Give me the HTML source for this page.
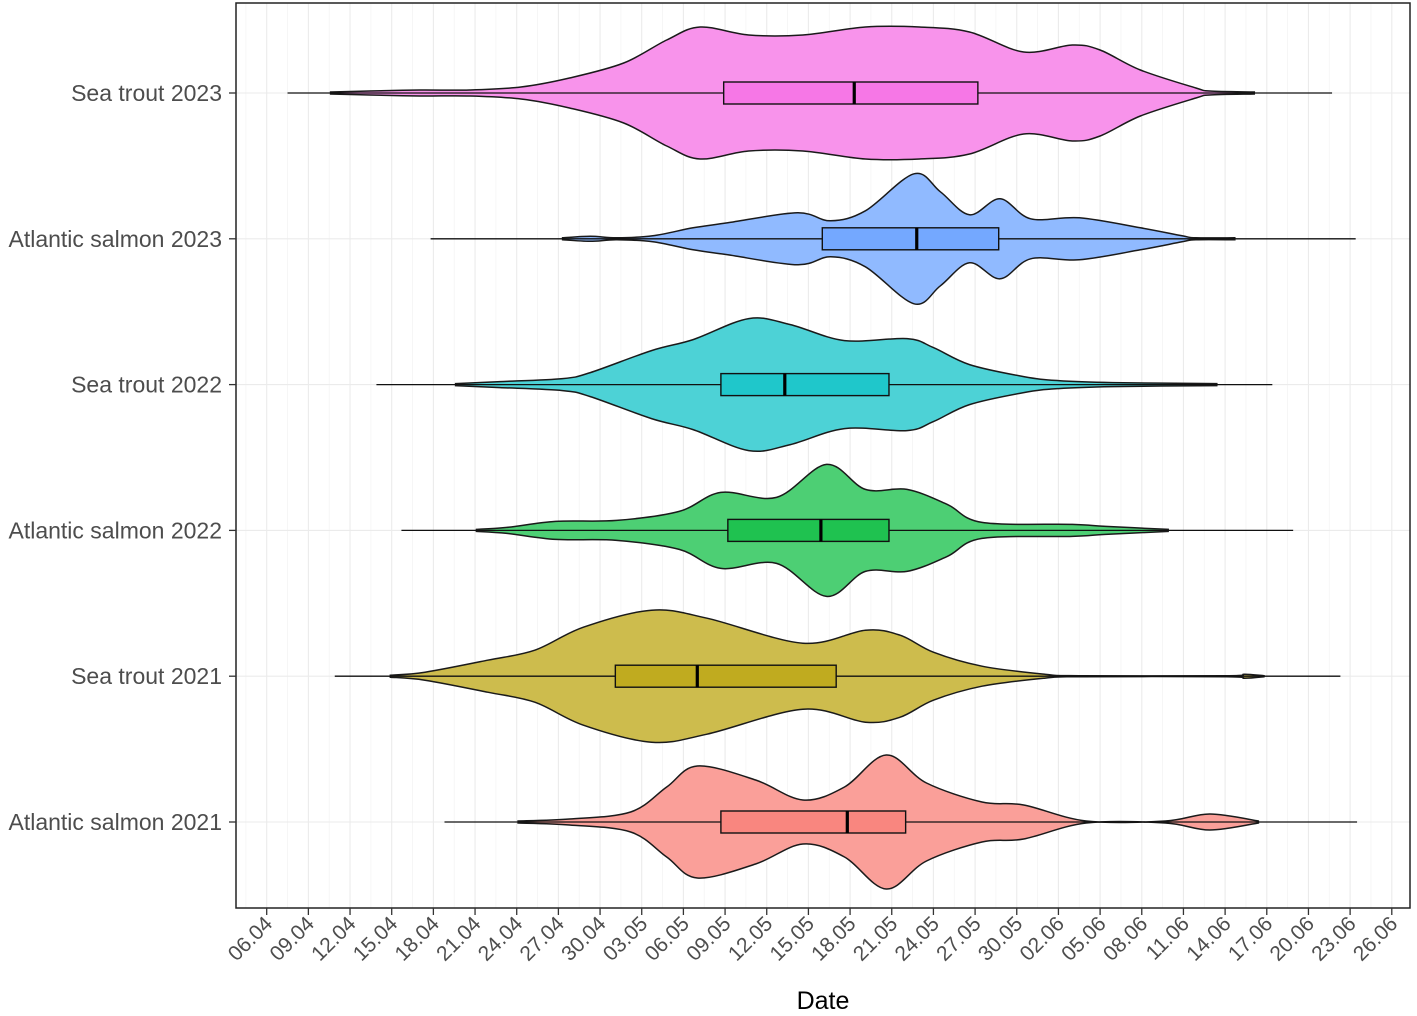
<!DOCTYPE html>
<html><head><meta charset="utf-8"><style>
html,body{margin:0;padding:0;background:#fff;}
svg{display:block;font-family:"Liberation Sans",Arial,sans-serif;}
</style></head><body>
<svg id="chart" width="1417" height="1016" viewBox="0 0 1417 1016" xmlns="http://www.w3.org/2000/svg"></svg>
<script>
// ---- data (days since 06.04) ----
const categories = ["Sea trout 2023","Atlantic salmon 2023","Sea trout 2022","Atlantic salmon 2022","Sea trout 2021","Atlantic salmon 2021"];
const baseColors = ["#F564E3","#619CFF","#00BFC4","#00BA38","#B79F00","#F8766D"];
const tickLabels = ["06.04","09.04","12.04","15.04","18.04","21.04","24.04","27.04","30.04","03.05","06.05","09.05","12.05","15.05","18.05","21.05","24.05","27.05","30.05","02.06","05.06","08.06","11.06","14.06","17.06","20.06","23.06","26.06"];
const tickDays = [0,3,6,9,12,15,18,21,24,27,30,33,36,39,42,45,48,51,54,57,60,63,66,69,72,75,78,81];
const densDays0 = [4.6,7.4,11.0,14.6,18.3,21.8,25.7,28.8,31.2,34.7,38.6,43.1,47.0,50.6,54.5,58.0,60.0,62.9,66.9,67.9,71.1];
const densVals0 = [1,2,3,3,6,15,30,53,66,58,58,66,66,61,41,48,43,23,5,2,1];
const densDays1 = [21.3,23.3,25.2,27.8,30.7,33.2,38.2,40.6,43.1,46.6,48.5,50.6,52.8,55.0,58.5,62.9,65.9,66.9,69.7];
const densVals1 = [1,2.5,1,3,11,16,26,18,28,65,47,24,40,20,21,11,3,1,1];
const densDays2 = [13.6,16.8,21.3,23.3,27.7,30.7,34.7,37.7,41.6,46.1,48.0,50.6,54.5,57.0,60.9,68.4];
const densVals2 = [1,3,6,12,34,45,66,60,44,46,37,20,8,4,2,1];
const densDays3 = [15.1,17.3,20.8,25.2,29.7,32.7,36.7,40.3,43.1,46.1,49.0,51.5,58.0,60.4,64.9];
const densVals3 = [1,3,9,10,19,38,33,66,41,41,26,8,6,4,1];
const densDays4 = [8.9,11.4,15.9,19.3,22.8,27.7,31.7,38.6,43.1,45.6,48.0,51.5,56.0,58.5,69.1,70.4,71.8];
const densVals4 = [1,4,16,26,49,66,58,33,46,41,24,10,2,0.5,0.5,2,0.5];
const densDays5 = [18.1,21.8,26.2,28.8,31.0,35.2,38.6,41.6,44.6,47.5,51.5,54.5,59.0,64.7,67.9,71.4];
const densVals5 = [1,3,10,35,56,42,22,35,67,39,20,17,1,1,8,1];
const q1 = [32.9,40.0,32.7,33.2,25.1,32.7];
const med = [42.3,46.8,37.3,39.9,31.0,41.8];
const q3 = [51.2,52.7,44.8,44.8,41.0,46.0];
const wLo = [1.5,11.8,7.9,9.7,4.9,12.8];
const wHi = [76.7,78.4,72.4,73.9,77.3,78.5];

const densDays=[densDays0,densDays1,densDays2,densDays3,densDays4,densDays5];
const densVals=[densVals0,densVals1,densVals2,densVals3,densVals4,densVals5];

const NS="http://www.w3.org/2000/svg";
const svg=document.getElementById('chart');
const P={l:236,r:1410,t:3,b:908};
const xS=d=>266.7+d*13.89;
const yS=i=>93+i*145.8;
const hS=v=>v;
function el(tag,attrs,parent){const e=document.createElementNS(NS,tag);for(const k in attrs)e.setAttribute(k,attrs[k]);(parent||svg).appendChild(e);return e;}
function mix(hex,a){const n=parseInt(hex.slice(1),16);const c=[n>>16,(n>>8)&255,n&255].map(v=>Math.round(v*a+255*(1-a)));return `rgb(${c.join(',')})`;}

const grid=el('g',{});


for(let i=0;i<tickDays.length;i++){
  const x=xS(tickDays[i]);
  el('line',{x1:x,x2:x,y1:P.t,y2:P.b,stroke:'#ebebeb','stroke-width':1.1},grid);
  const xm=xS(tickDays[i]+1.5);
  if(xm<P.r) el('line',{x1:xm,x2:xm,y1:P.t,y2:P.b,stroke:'#f4f4f4','stroke-width':0.8},grid);
}
const xm0=xS(-1.5); el('line',{x1:xm0,x2:xm0,y1:P.t,y2:P.b,stroke:'#f4f4f4','stroke-width':0.8},grid);
for(let i=0;i<categories.length;i++){
  const y=yS(i);
  el('line',{x1:P.l,x2:P.r,y1:y,y2:y,stroke:'#ebebeb','stroke-width':1.1},grid);
}

function smoothPath(pts){
  let d=`M${pts[0][0]},${pts[0][1]}`;
  for(let i=0;i<pts.length-1;i++){
    const p0=pts[Math.max(0,i-1)],p1=pts[i],p2=pts[i+1],p3=pts[Math.min(pts.length-1,i+2)];
    const c1=[p1[0]+(p2[0]-p0[0])/6,p1[1]+(p2[1]-p0[1])/6];
    const c2=[p2[0]-(p3[0]-p1[0])/6,p2[1]-(p3[1]-p1[1])/6];
    d+=` C${c1[0].toFixed(1)},${c1[1].toFixed(1)} ${c2[0].toFixed(1)},${c2[1].toFixed(1)} ${p2[0].toFixed(1)},${p2[1].toFixed(1)}`;
  }
  return d;
}

for(let i=0;i<categories.length;i++){
  const g=el('g',{});
  
  
  const cy=yS(i);
  const days=densDays[i], vals=densVals[i];
  const top=days.map((d,k)=>[xS(d),cy-hS(vals[k])]);
  const bot=days.map((d,k)=>[xS(d),cy+hS(vals[k])]).reverse();
  const path=smoothPath(top)+' L'+bot[0][0]+','+bot[0][1]+smoothPath(bot).replace(/^M[^C]*/,' ')+' Z';
  const v=el('path',{d:path,fill:mix(baseColors[i],0.7),stroke:'#1a1a1a','stroke-width':1.5},g);
  
  
  const w=el('line',{x1:xS(wLo[i]),x2:xS(wHi[i]),y1:cy,y2:cy,stroke:'#111','stroke-width':1.3},g);
  
  
  const b=el('rect',{x:xS(q1[i]),y:cy-11,width:xS(q3[i])-xS(q1[i]),height:22,fill:mix(baseColors[i],0.88),stroke:'#111','stroke-width':1.4},g);
  
  
  const m=el('line',{x1:xS(med[i]),x2:xS(med[i]),y1:cy-11,y2:cy+11,stroke:'#000','stroke-width':3.2},g);
  
  
}

const border=el('rect',{x:P.l,y:P.t,width:P.r-P.l,height:P.b-P.t,fill:'none',stroke:'#222','stroke-width':1.5});



for(let i=0;i<categories.length;i++){
  const y=yS(i);
  el('line',{x1:229,x2:P.l,y1:y,y2:y,stroke:'#333','stroke-width':1.3});
  const t=el('text',{x:222,y:y+8,'text-anchor':'end','font-size':23,fill:'#4d4d4d'});
  t.textContent=categories[i];
  
  
}
for(let i=0;i<tickDays.length;i++){
  const x=xS(tickDays[i]);
  el('line',{x1:x,x2:x,y1:P.b,y2:P.b+7,stroke:'#333','stroke-width':1.3});
  const t=el('text',{x:x+7,y:P.b+17,'text-anchor':'end','font-size':21,fill:'#4d4d4d',transform:`rotate(-45 ${x+7} ${P.b+17})`});
  t.textContent=tickLabels[i];
  
  
}
const xt=el('text',{x:823,y:1009,'text-anchor':'middle','font-size':25,fill:'#000'});
xt.textContent='Date';


</script>
</body></html>
